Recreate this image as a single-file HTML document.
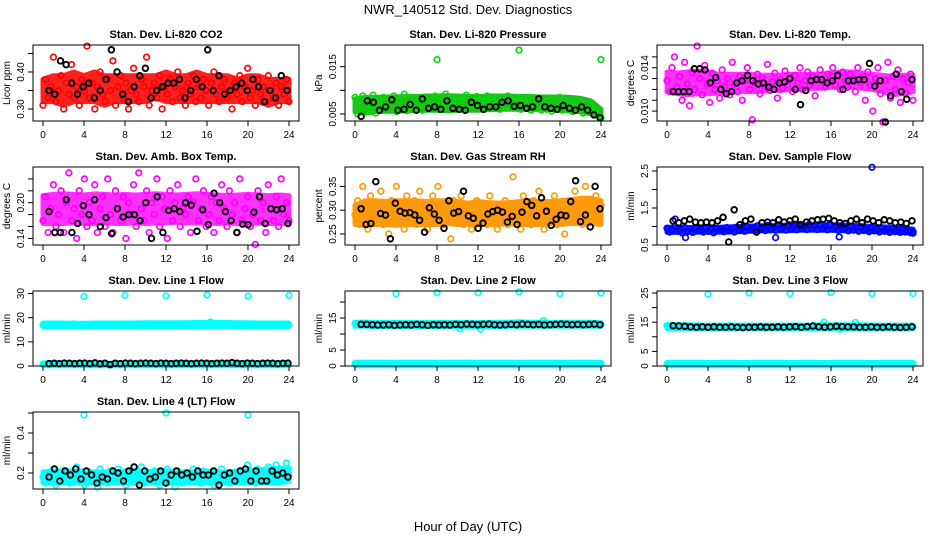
<!DOCTYPE html>
<html><head><meta charset="utf-8"><style>
html,body{margin:0;padding:0;background:#fff;}
svg{display:block;font-family:"Liberation Sans",Arial,sans-serif;}
</style></head><body>
<svg id="chart" width="936" height="540" viewBox="0 0 936 540">
<text x="468" y="14" text-anchor="middle" font-size="13">NWR_140512  Std. Dev. Diagnostics</text>
<text x="468" y="531" text-anchor="middle" font-size="13">Hour of Day (UTC)</text>
</svg>
<script>
// ---- data arrays ----
const xTicks=[0,4,8,12,16,20,24];
const bandHours=[0,1,2,3,4,5,6,7,8,9,10,11,12,13,14,15,16,17,18,19,20,21,22,23,24];
const co2Lo=[.32,.32,.31,.32,.32,.32,.31,.32,.32,.32,.32,.33,.32,.32,.32,.32,.32,.32,.32,.32,.32,.32,.31,.32,.32];
const co2Hi=[.38,.39,.39,.40,.39,.40,.39,.39,.39,.39,.39,.39,.40,.39,.39,.40,.39,.39,.39,.38,.39,.39,.38,.38,.38];
const presLo=[.0055,.0052,.0055,.0056,.0056,.0057,.0058,.0058,.0058,.0057,.0058,.0058,.0058,.0059,.006,.006,.006,.006,.006,.0059,.0058,.0057,.0055,.005,.0042];
const presHi=[.0082,.0085,.0085,.0086,.0086,.0087,.0087,.0088,.0088,.0089,.0088,.0087,.0087,.0088,.0088,.0088,.0087,.0087,.0086,.0086,.0086,.0085,.0083,.0078,.006];
const tempLo=[.0118,.0116,.0115,.0116,.0116,.0117,.0117,.0118,.0118,.0118,.0119,.0119,.012,.012,.0121,.0121,.0122,.0122,.0122,.0121,.012,.0118,.0115,.0116,.0118];
const tempHi=[.0136,.0135,.0136,.0137,.0136,.0134,.0134,.0134,.0134,.0133,.0133,.0133,.0134,.0134,.0134,.0134,.0135,.0136,.0136,.0135,.0134,.0133,.0132,.0133,.0133];
const ambLo=[.165,.165,.165,.166,.165,.165,.166,.165,.165,.166,.165,.166,.166,.167,.166,.166,.166,.165,.166,.165,.165,.166,.165,.165,.166];
const ambHi=[.212,.214,.215,.214,.213,.215,.214,.213,.214,.213,.214,.215,.214,.213,.214,.215,.214,.213,.212,.213,.214,.213,.212,.213,.212];
const rhLo=[.27,.268,.27,.27,.268,.27,.27,.27,.27,.272,.27,.27,.27,.27,.27,.272,.27,.27,.27,.272,.27,.272,.272,.272,.27];
const rhHi=[.31,.32,.32,.318,.32,.32,.32,.318,.32,.32,.318,.315,.318,.316,.315,.316,.318,.32,.318,.318,.32,.322,.325,.325,.32];
const flowLo=[.84,.84,.84,.85,.85,.85,.85,.86,.87,.88,.88,.88,.89,.9,.9,.9,.9,.89,.88,.88,.87,.86,.85,.84,.83];
const flowHi=[.98,.98,.97,.98,.98,.98,.99,1.0,1.01,1.02,1.02,1.03,1.04,1.05,1.05,1.05,1.05,1.04,1.03,1.02,1.0,.99,.98,.96,.93];
const l1BandLo=[16.2,16.2,16.2,16.2,16.2,16.2,16.2,16.2,16.3,16.3,16.3,16.3,16.3,16.3,16.3,16.3,16.4,16.4,16.4,16.3,16.3,16.3,16.3,16.3,16.3];
const l1BandHi=[17.8,17.8,17.8,17.7,17.7,17.8,17.8,17.8,17.8,17.8,17.9,17.9,17.9,17.9,17.9,18.0,18.0,18.0,18.0,17.9,17.9,17.8,17.8,17.8,17.8];
const lowBandLo=[0.1,0.1,0.1,0.1,0.1,0.1,0.1,0.1,0.1,0.1,0.1,0.1,0.1,0.1,0.1,0.1,0.1,0.1,0.1,0.1,0.1,0.1,0.1,0.1,0.1];
const lowBandHi=[1.2,1.2,1.2,1.2,1.2,1.2,1.2,1.2,1.2,1.2,1.2,1.2,1.2,1.2,1.2,1.2,1.2,1.2,1.2,1.2,1.2,1.2,1.2,1.2,1.2];
const l2BandLo=[12.4,12.4,12.3,12.3,12.3,12.3,12.3,12.3,12.3,12.3,12.3,12.3,12.3,12.3,12.3,12.4,12.4,12.4,12.4,12.4,12.4,12.4,12.4,12.4,12.4];
const l2BandHi=[13.7,13.7,13.6,13.6,13.6,13.6,13.6,13.6,13.6,13.6,13.6,13.6,13.6,13.6,13.7,13.7,13.8,13.7,13.7,13.7,13.7,13.7,13.7,13.7,13.6];
const l3BandLo=[12.8,12.8,12.8,12.7,12.7,12.7,12.7,12.7,12.7,12.7,12.7,12.7,12.7,12.7,12.7,12.7,12.7,12.7,12.7,12.7,12.7,12.7,12.7,12.7,12.7];
const l3BandHi=[14.1,14.1,14.1,14.0,14.0,14.0,14.0,14.0,14.0,14.0,14.0,14.0,14.0,14.0,14.0,14.1,14.1,14.1,14.1,14.1,14.0,14.0,14.0,14.0,14.0];
const l4BandLo=[.15,.15,.15,.15,.15,.15,.15,.15,.15,.15,.15,.15,.15,.15,.15,.15,.15,.15,.15,.15,.15,.15,.15,.15,.16];
const l4BandHi=[.205,.21,.21,.21,.21,.205,.205,.205,.21,.205,.205,.21,.21,.205,.205,.205,.21,.205,.205,.21,.215,.215,.22,.225,.225];

const co2Red=[.31,.38,.33,.36,.44,.32,.35,.39,.30,.37,.34,.42,.33,.36,.31,.38,.35,.47,.33,.37,.30,.36,.40,.34,.32,.38,.35,.43,.31,.36,.39,.33,.37,.30,.35,.41,.34,.32,.38,.36,.44,.31,.35,.37,.33,.39,.30,.36,.34,.38,.32,.36,.40,.33,.35,.31,.37,.34,.39,.32,.36,.33,.38,.35,.31,.37,.40,.34,.32,.36,.38,.33,.35,.30,.37,.34,.39,.32,.36,.41,.33,.35,.31,.38,.34,.36,.32,.39,.35,.33,.37,.31,.36,.34,.38,.32];
const co2Black=[.35,.34,.43,.42,.37,.34,.36,.37,.33,.35,.38,.46,.40,.34,.32,.36,.39,.41,.33,.35,.36,.37,.37,.38,.33,.35,.38,.36,.46,.35,.39,.34,.35,.36,.37,.35,.38,.36,.32,.35,.33,.39,.35];
const presGreen=[.0085,.005,.007,.0088,.0055,.0075,.006,.009,.0052,.0072,.0065,.0085,.0058,.007,.0062,.0088,.0055,.0078,.006,.0092,.0057,.007,.0065,.0085,.006,.0075,.0058,.0082,.0063,.0072,.0068,.0088,.006,.0078,.0065,.0092,.0062,.0075,.0068,.0085,.0063,.0078,.0066,.009,.0064,.0076,.0068,.0087,.0065,.0078,.0066,.0088,.0062,.0076,.0068,.0085,.006,.0075,.0066,.0088,.0063,.0078,.0065,.0085,.006,.0074,.0064,.0084,.0058,.007,.0062,.0082,.0058,.0072,.006,.008,.0056,.007,.0062,.0085,.0058,.0068,.006,.0078,.0055,.0068,.0058,.0075,.0052,.0062,.0055,.0068,.005,.0058,.0048,.0042];
const presOutHours=[8,16,24];
const presOutVals=[.0165,.0185,.0165];
const presBlack=[.0045,.0078,.0075,.0058,.0065,.008,.0058,.006,.007,.0058,.0082,.0062,.0065,.006,.0078,.0062,.006,.0058,.0075,.0068,.006,.0065,.0065,.0075,.0078,.0066,.0068,.0062,.0065,.0082,.0065,.0062,.006,.0068,.0062,.0058,.0065,.0058,.0048,.0042];
const tempMag=[.0128,.0118,.0140,.0150,.0122,.0132,.0110,.0145,.0125,.0105,.0136,.0120,.0160,.0130,.0115,.0142,.0125,.0108,.0135,.0120,.0128,.0112,.0138,.0122,.0130,.0115,.0145,.0125,.0118,.0132,.0110,.0128,.0140,.0120,.0092,.0126,.0134,.0116,.0130,.0122,.0143,.0119,.0127,.0135,.0112,.0129,.0121,.0137,.0124,.0131,.0118,.0133,.0126,.0140,.0120,.0128,.0136,.0124,.0132,.0114,.0130,.0138,.0126,.0122,.0134,.0128,.0140,.0124,.0132,.0120,.0136,.0128,.0122,.0134,.0130,.0118,.0140,.0126,.0132,.0110,.0136,.0124,.0100,.0130,.0140,.0116,.0090,.0128,.0145,.0112,.0132,.0120,.0138,.0108,.0130,.0116,.0126,.0134,.0110];
const tempBlack=[.0118,.0118,.0118,.0118,.0139,.0139,.0138,.0126,.0131,.0120,.0116,.0118,.0126,.0128,.0133,.0128,.0125,.0126,.0122,.0120,.0126,.0127,.0130,.0120,.0106,.0119,.0128,.0129,.0129,.0126,.0128,.0133,.0120,.0128,.0128,.0129,.0129,.0144,.0123,.0128,.0090,.0114,.0134,.0118,.0111,.0129];
const ambMag=[.17,.21,.15,.19,.23,.16,.18,.22,.15,.20,.25,.17,.19,.14,.22,.18,.24,.16,.20,.17,.23,.15,.19,.21,.16,.24,.18,.15,.22,.19,.17,.21,.14,.20,.18,.23,.16,.25,.19,.17,.22,.15,.20,.18,.24,.16,.21,.19,.14,.22,.17,.20,.23,.16,.19,.18,.21,.15,.20,.24,.17,.19,.22,.16,.18,.21,.15,.20,.17,.23,.19,.16,.22,.18,.20,.15,.24,.17,.19,.21,.16,.18,.13,.22,.17,.20,.15,.23,.19,.17,.21,.16,.24,.18,.20,.17];
const ambBlack=[.185,.15,.15,.205,.15,.165,.195,.18,.205,.16,.175,.148,.19,.176,.18,.18,.17,.2,.14,.21,.15,.187,.19,.185,.2,.196,.152,.188,.163,.216,.2,.185,.17,.15,.164,.163,.184,.21,.165,.19,.188,.19,.165];
const rhOrange=[.29,.32,.27,.35,.30,.26,.33,.28,.31,.29,.34,.27,.30,.25,.32,.28,.35,.29,.31,.26,.33,.30,.28,.32,.27,.34,.29,.31,.26,.30,.33,.28,.35,.29,.27,.31,.30,.24,.32,.28,.30,.33,.27,.29,.31,.26,.30,.32,.28,.29,.31,.27,.33,.30,.28,.26,.31,.29,.32,.27,.30,.37,.28,.31,.26,.33,.29,.30,.27,.32,.28,.34,.29,.26,.31,.30,.28,.33,.27,.29,.31,.25,.30,.32,.28,.34,.29,.31,.27,.35,.30,.32,.28,.33,.29,.31];
const rhBlack=[.303,.27,.272,.36,.293,.29,.24,.315,.298,.294,.295,.29,.279,.254,.305,.292,.279,.262,.32,.294,.297,.34,.288,.283,.262,.273,.292,.297,.3,.296,.275,.287,.27,.296,.318,.31,.288,.326,.298,.268,.281,.29,.288,.318,.362,.276,.29,.265,.35,.303];
const flowBlue=[.95,.85,.9,1.0,.88,.92,.82,.97,.87,.93,.84,.95,.88,.9,.85,.96,.87,.92,.83,.94,.88,.91,.86,.97,.89,.93,.85,.98,.9,.94,.87,1.0,.91,.95,.88,1.02,.92,.96,.89,1.03,.93,.97,.9,1.04,.94,.98,.9,1.05,.94,.99,.91,1.05,.95,1.0,.92,1.06,.95,1.0,.92,1.05,.94,.99,.91,1.04,.93,.98,.9,1.02,.92,.96,.88,1.0,.9,.95,.87,.98,.89,.93,.86,.96,.88,.92,.85,.95,.87,.91,.84,.93,.86,.9,.84,.92,.85,.88,.83,.86];
const flowOutHours=[0.8,1.8,10.6,16.8,20,24];
const flowOutVals=[1.2,0.7,0.7,0.72,2.6,0.82];
const flowBlack=[1.15,1.1,1.15,1.2,1.12,1.1,1.12,1.1,1.15,1.25,0.58,1.45,1.05,1.15,1.2,0.85,1.1,1.12,1.1,1.18,1.12,1.15,1.2,1.05,1.12,1.15,1.18,1.2,1.22,1.15,1.1,1.08,1.15,1.2,1.1,1.2,1.15,1.1,1.18,1.15,1.1,1.12,1.08,1.15];
const l1High=[17.0,16.6,17.3,16.8,17.1,16.5,17.4,16.9,17.0,16.7,17.2,16.8,17.1,16.6,17.3,16.9,17.0,16.7,17.2,16.9,17.4,16.8,17.1,16.7,17.3,17.0,16.8,17.2,16.9,17.5,17.1,16.8,18.2,17.0,16.9,17.3,17.1,16.8,17.4,17.0,17.2,16.9,17.1,16.8,17.3,17.0,16.9,17.1];
const l1Low=[0.8,0.9,0.7,0.8,0.9,0.8,0.7,0.9,0.8,0.8];
const l1Black=[1.0,1.1,1.0,1.2,1.1,1.0,1.1,1.2,1.0,1.3,0.9,1.1,0.6,1.1,1.0,1.2,1.1,1.0,1.1,1.2,1.1,1.0,1.2,1.1,1.0,1.1,1.2,1.1,1.0,1.1,1.2,1.1,1.0,1.1,1.2,1.1,1.4,1.1,1.0,1.2,1.1,1.0,1.1,1.2,1.1,1.0,1.1,1.2];
const outHours=[4,8,12,16,20,24];
const l1Out=[28.8,29.2,29.0,29.4,28.9,29.2];
const l2High=[13.3,13.0,13.4,12.9,13.2,12.8,13.3,13.0,13.1,12.7,13.2,12.9,13.3,13.0,12.8,13.1,13.0,12.9,13.2,13.0,11.6,12.8,13.1,12.9,11.5,13.2,13.0,12.9,13.3,13.1,13.4,13.0,13.2,12.9,13.3,13.1,14.2,13.0,12.9,13.2,13.0,12.8,13.1,13.0,13.2,12.9,13.1,13.0];
const l2Low=[0.7,0.5,0.8,0.6,0.5,0.7,0.6,0.8,0.5,0.7,0.6,0.5,0.8,0.6,0.7,0.5,0.6,0.8,0.6,0.5,0.7,0.6,0.9,0.5,0.7,0.6,0.8,0.5,0.6,0.7,0.5,0.8,0.6,0.7,0.5,0.6,0.7,0.8,0.5,0.6,0.7,0.5,0.8,0.6,0.5,0.7,0.6,0.7];
const l2Black=[13.0,13.0,12.9,12.8,12.8,12.9,12.7,12.8,12.9,12.8,13.0,12.9,12.7,12.9,12.8,12.9,12.8,13.0,12.9,13.1,13.0,12.9,13.0,13.1,12.9,12.8,12.9,13.0,12.9,13.1,13.0,12.9,13.0,12.8,12.9,13.0,13.1,13.0,12.9,13.0,12.9,13.0,13.1,12.9];
const l2Out=[22.6,22.9,22.9,23.2,22.6,22.8];
const l3High=[13.8,13.5,13.9,13.4,13.7,13.3,13.8,13.5,13.6,13.2,13.7,13.4,13.8,13.5,13.3,13.6,13.5,13.4,13.7,13.5,13.2,13.3,13.6,13.4,13.2,13.7,13.5,13.4,13.8,13.6,15.0,13.5,13.7,12.6,13.8,13.6,14.9,13.5,13.4,13.7,13.5,13.3,13.6,13.5,13.7,13.4,13.6,13.5];
const l3Low=[0.7,0.5,0.8,0.6,0.5,0.7,0.6,0.8,0.5,0.7,0.6,0.5,0.8,0.6,0.7,0.5,0.6,0.8,0.6,0.5,0.7,0.6,0.9,0.5,0.7,0.6,0.8,0.5,0.6,0.7,0.5,0.8,0.6,0.7,0.5,0.6,0.7,0.8,0.5,0.6,0.7,0.5,0.8,0.6,0.5,0.7,0.6,0.7];
const l3Black=[13.8,13.7,13.6,13.4,13.3,13.4,13.3,13.4,13.3,13.3,13.4,13.3,13.2,13.3,13.3,13.4,13.3,13.3,13.4,13.3,13.4,13.5,13.3,13.5,13.7,13.4,13.3,13.4,13.6,13.5,13.4,13.4,13.3,13.3,13.4,13.3,13.3,13.4,13.3,13.2,13.3,13.4];
const l3Out=[24.6,25.0,24.8,25.2,24.8,24.8];
const l4Cyan=[.18,.15,.20,.17,.22,.14,.19,.16,.21,.18,.15,.20,.17,.23,.16,.19,.14,.21,.18,.16,.20,.13,.22,.17,.19,.15,.21,.18,.16,.22,.17,.19,.14,.20,.18,.16,.21,.17,.23,.15,.19,.18,.16,.21,.17,.14,.20,.18,.22,.16,.19,.13,.21,.17,.15,.20,.18,.16,.22,.17,.19,.15,.21,.18,.16,.20,.14,.19,.17,.22,.16,.18,.15,.20,.17,.19,.16,.21,.18,.24,.17,.20,.15,.22,.18,.21,.16,.23,.19,.17,.24,.20,.18,.22,.25,.19];
const l4OutHours=[4,12,20];
const l4Out=[0.49,0.50,0.49];
const l4Black=[.18,.22,.16,.21,.19,.22,.17,.21,.19,.15,.18,.17,.21,.20,.16,.21,.23,.14,.21,.17,.18,.21,.15,.19,.21,.19,.20,.18,.21,.19,.19,.21,.14,.19,.20,.16,.21,.22,.16,.21,.16,.16,.21,.19,.20,.18];

// ---- rendering ----
const NS='http://www.w3.org/2000/svg';
const svg=document.getElementById('chart');
function mk(tag,attrs,parent){const e=document.createElementNS(NS,tag);for(const k in attrs)e.setAttribute(k,attrs[k]);(parent||svg).appendChild(e);return e;}
function spread(arr,x0,x1){return arr.map((v,i)=>x0+i*(x1-x0)/(arr.length-1));}
const cols=[33,345,657], rows=[[45,121],[167,245],[291,366],[412,489]];
const BW=266;
const panels=[
 {t:'Stan. Dev. Li-820 CO2',yl:'Licor ppm',c:0,r:0,y0:[.30,109],y1:[.40,72],ticks:[.30,.35,.40,.45],labs:{'0.3':'0.30','0.4':'0.40'},
  b:[{lo:co2Lo,hi:co2Hi,col:'#ff2020'}],
  s:[{v:co2Red,col:'#ff0000'},{v:co2Black,col:'#000',x0:.6,x1:23.8}]},
 {t:'Stan. Dev. Li-820 Pressure',yl:'kPa',c:1,r:0,y0:[.005,114],y1:[.015,66.7],ticks:[.005,.010,.015],labs:{'0.005':'0.005','0.015':'0.015'},
  b:[{lo:presLo,hi:presHi,col:'#22bb22'}],
  s:[{v:presGreen,col:'#00dd00'},{v:presOutVals,h:presOutHours,col:'#00dd00'},{v:presBlack,col:'#000',x0:.6,x1:23.9}]},
 {t:'Stan. Dev. Li-820 Temp.',yl:'degrees C',c:2,r:0,y0:[.010,111.1],y1:[.014,67.7],ticks:[.010,.011,.012,.013,.014,.015],labs:{'0.01':'0.010','0.014':'0.014'},
  b:[{lo:tempLo,hi:tempHi,col:'#ff30ff'}],
  s:[{v:tempMag,col:'#ff00ff'},{v:tempBlack,col:'#000',x0:.6,x1:23.9}]},
 {t:'Stan. Dev. Amb. Box Temp.',yl:'degrees C',c:0,r:1,y0:[.14,238.4],y1:[.20,202.7],ticks:[.14,.16,.18,.20,.22,.24],labs:{'0.14':'0.14','0.2':'0.20'},
  b:[{lo:ambLo,hi:ambHi,col:'#ff30ff'}],
  s:[{v:ambMag,col:'#ff00ff'},{v:ambBlack,col:'#000',x0:.6,x1:23.9}]},
 {t:'Stan. Dev. Gas Stream RH',yl:'percent',c:1,r:1,y0:[.25,234],y1:[.35,186.4],ticks:[.25,.30,.35],labs:{'0.25':'0.25','0.3':'0.30','0.35':'0.35'},
  b:[{lo:rhLo,hi:rhHi,col:'#ff9a10'}],
  s:[{v:rhOrange,col:'#ff9900'},{v:rhBlack,col:'#000',x0:.6,x1:23.9}]},
 {t:'Stan. Dev. Sample Flow',yl:'ml/min',c:2,r:1,y0:[.5,245],y1:[2.5,171],ticks:[.5,1,1.5,2,2.5],labs:{'0.5':'0.5','1.5':'1.5','2.5':'2.5'},
  b:[{lo:flowLo,hi:flowHi,col:'#1020ff'}],
  s:[{v:flowBlue,col:'#0000ff'},{v:flowOutVals,h:flowOutHours,col:'#0000ff'},{v:flowBlack,col:'#000',x0:.6,x1:23.9}]},
 {t:'Stan. Dev. Line 1 Flow',yl:'ml/min',c:0,r:2,y0:[0,366],y1:[30,293.5],ticks:[0,10,20,30],labs:{'0':'0','10':'10','20':'20','30':'30'},
  b:[{lo:l1BandLo,hi:l1BandHi,col:'#00ffff'},{lo:lowBandLo,hi:lowBandHi,col:'#00ffff'}],
  s:[{v:l1High,col:'#00ffff'},{v:l1Low,col:'#00ffff',x0:0,x1:1},{v:l1Out,h:outHours,col:'#00ffff'},{v:l1Black,col:'#000',x0:.6,x1:23.9}]},
 {t:'Stan. Dev. Line 2 Flow',yl:'ml/min',c:1,r:2,y0:[0,366],y1:[15,318],ticks:[0,5,10,15,20],labs:{'0':'0','5':'5','15':'15'},
  b:[{lo:l2BandLo,hi:l2BandHi,col:'#00ffff'},{lo:lowBandLo,hi:lowBandHi,col:'#00ffff'}],
  s:[{v:l2High,col:'#00ffff'},{v:l2Low,col:'#00ffff'},{v:l2Out,h:outHours,col:'#00ffff'},{v:l2Black,col:'#000',x0:.6,x1:23.9}]},
 {t:'Stan. Dev. Line 3 Flow',yl:'ml/min',c:2,r:2,y0:[0,366],y1:[25,293],ticks:[0,5,10,15,20,25],labs:{'0':'0','5':'5','15':'15','25':'25'},
  b:[{lo:l3BandLo,hi:l3BandHi,col:'#00ffff'},{lo:lowBandLo,hi:lowBandHi,col:'#00ffff'}],
  s:[{v:l3High,col:'#00ffff'},{v:l3Low,col:'#00ffff'},{v:l3Out,h:outHours,col:'#00ffff'},{v:l3Black,col:'#000',x0:.6,x1:23.9}]},
 {t:'Stan. Dev. Line 4 (LT) Flow',yl:'ml/min',c:0,r:3,y0:[.2,473],y1:[.4,433],ticks:[.2,.3,.4,.5],labs:{'0.2':'0.2','0.4':'0.4'},
  b:[{lo:l4BandLo,hi:l4BandHi,col:'#00ffff'}],
  s:[{v:l4Cyan,col:'#00ffff'},{v:l4Out,h:l4OutHours,col:'#00ffff'},{v:l4Black,col:'#000',x0:.6,x1:23.9}]}
];
const slug=s=>s.toLowerCase().replace(/[^a-z0-9]+/g,'-').replace(/^-|-$/g,'');
panels.forEach(p=>{
  const L=cols[p.c], T=rows[p.r][0], B=rows[p.r][1];
  const xs=h=>L+10+h*(BW-20)/24;
  const ys=v=>p.y0[1]+(v-p.y0[0])*(p.y1[1]-p.y0[1])/(p.y1[0]-p.y0[0]);
  const g=mk('g',{});
  
  
  const ti=mk('text',{x:L+BW/2,y:T-7,'text-anchor':'middle','font-size':'11','font-weight':'bold'},g);
  ti.textContent=p.t;
  
  
  const yt=mk('text',{x:0,y:0,'text-anchor':'middle','font-size':'10',transform:`translate(${L-23},${(T+B)/2}) rotate(-90)`},g);
  yt.textContent=p.yl;
  
  
  // dense point cloud envelopes
  (p.b||[]).forEach(b=>{
    const up=bandHours.map((h,i)=>xs(h).toFixed(1)+','+ys(b.hi[i]).toFixed(1));
    const dn=bandHours.map((h,i)=>xs(h).toFixed(1)+','+ys(b.lo[i]).toFixed(1)).reverse();
    const pg=mk('polygon',{points:up.concat(dn).join(' '),fill:b.col,stroke:b.col,'stroke-width':5,'stroke-linejoin':'round'},g);
    
    
  });
  // points
  p.s.forEach(s=>{
    const hs=s.h||spread(s.v,s.x0!==undefined?s.x0:0,s.x1!==undefined?s.x1:24);
    const blk=s.col==='#000';
    s.v.forEach((v,i)=>{
      const c=mk('circle',{cx:xs(hs[i]).toFixed(1),cy:ys(v).toFixed(1),r:blk?2.8:2.8,fill:'none',stroke:s.col,'stroke-width':blk?1.9:1.7},g);
      
      
    });
  });
  const box=mk('rect',{x:L,y:T,width:BW,height:B-T,fill:'none',stroke:'#000','stroke-width':1},g);
  
  
  mk('line',{x1:xs(0),x2:xs(24),y1:B,y2:B,stroke:'#000'},g);
  xTicks.forEach(h=>{
    mk('line',{x1:xs(h),x2:xs(h),y1:B,y2:B+5,stroke:'#000'},g);
    const tl=mk('text',{x:xs(h),y:B+17,'text-anchor':'middle','font-size':'10'},g);
    tl.textContent=h;
    
    
  });
  const tk=p.ticks;
  mk('line',{x1:L,x2:L,y1:ys(tk[0]),y2:ys(tk[tk.length-1]),stroke:'#000'},g);
  tk.forEach(v=>{
    const y=ys(v);
    mk('line',{x1:L-5,x2:L,y1:y,y2:y,stroke:'#000'},g);
    const key=String(+v.toFixed(4));
    if(p.labs[key]!==undefined){
      const tl=mk('text',{x:0,y:0,'text-anchor':'middle','font-size':'10',transform:`translate(${L-9},${y}) rotate(-90)`},g);
      tl.textContent=p.labs[key];
      
      
    }
  });
});
</script>
</body></html>
